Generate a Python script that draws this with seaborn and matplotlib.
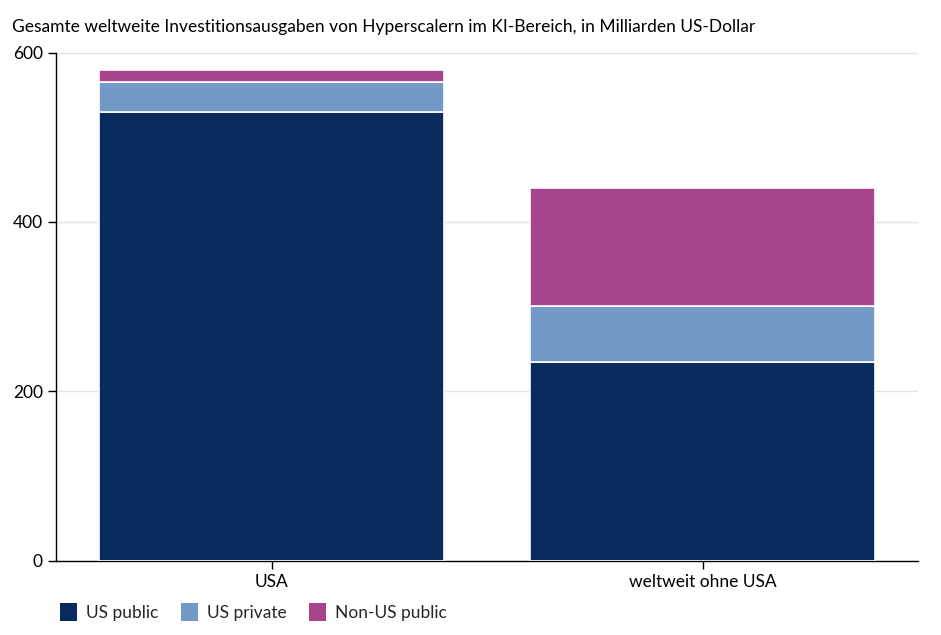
import numpy as np
import pandas as pd
import matplotlib
matplotlib.use("Agg")
import matplotlib.pyplot as plt
from matplotlib.patches import Patch
import seaborn as sns

# Data (Milliarden US-Dollar)
categories = ["USA", "weltweit ohne USA"]
us_public = [530, 234]
us_private = [35, 67]
non_us_public = [15, 139]

series_names = ["US public", "US private", "Non-US public"]
COLORS = ["#0a2b5e", "#7399c6", "#a6458b"]
TITLE = "Gesamte weltweite Investitionsausgaben von Hyperscalern im KI-Bereich, in Milliarden US-Dollar"

sns.set_theme(style="white")
plt.rcParams['font.family'] = ['Lato', 'DejaVu Sans']

df = pd.DataFrame({
    "category": categories,
    "US public": us_public,
    "US private": us_private,
    "Non-US public": non_us_public,
})

fig = plt.figure(figsize=(9.41, 6.35), dpi=100)
ax = fig.add_axes([56 / 941, 1 - 560.5 / 635, 862 / 941, 507.8 / 635])

bottom = np.zeros(len(df))
for name, color in zip(series_names, COLORS):
    sns.barplot(data=df, x="category", y=name, color=color, width=0.8,
                bottom=bottom, edgecolor="white", linewidth=1.2,
                saturation=1, ax=ax, zorder=3)
    bottom = bottom + df[name].values

ax.set_xlim(-0.5, 1.5)
ax.set_ylim(0, 600)
ax.set_yticks([0, 200, 400, 600])
ax.set_xlabel("")
ax.set_ylabel("")
ax.yaxis.grid(True, color="#e3e3e3", linewidth=1, zorder=0)
ax.set_axisbelow(True)
for side in ["top", "right"]:
    ax.spines[side].set_visible(False)
for side in ["left", "bottom"]:
    ax.spines[side].set_color("black")
    ax.spines[side].set_linewidth(1)
ax.tick_params(axis="both", which="both", length=6, width=1, color="black",
               labelsize=12.5, labelcolor="black", left=True, bottom=True)

fig.text(12 / 941, 1 - 27 / 635, TITLE, fontsize=12.5, va="center", ha="left", color="black")

handles = [Patch(facecolor=c, edgecolor="none") for c in COLORS]
fig.legend(handles, series_names, loc="center left", bbox_to_anchor=(44 / 941, 1 - 612 / 635),
           ncol=3, frameon=False, fontsize=12.5, handlelength=1.0, handleheight=1.3,
           handletextpad=0.5, columnspacing=1.3)

fig.savefig("out.png", dpi=100)
